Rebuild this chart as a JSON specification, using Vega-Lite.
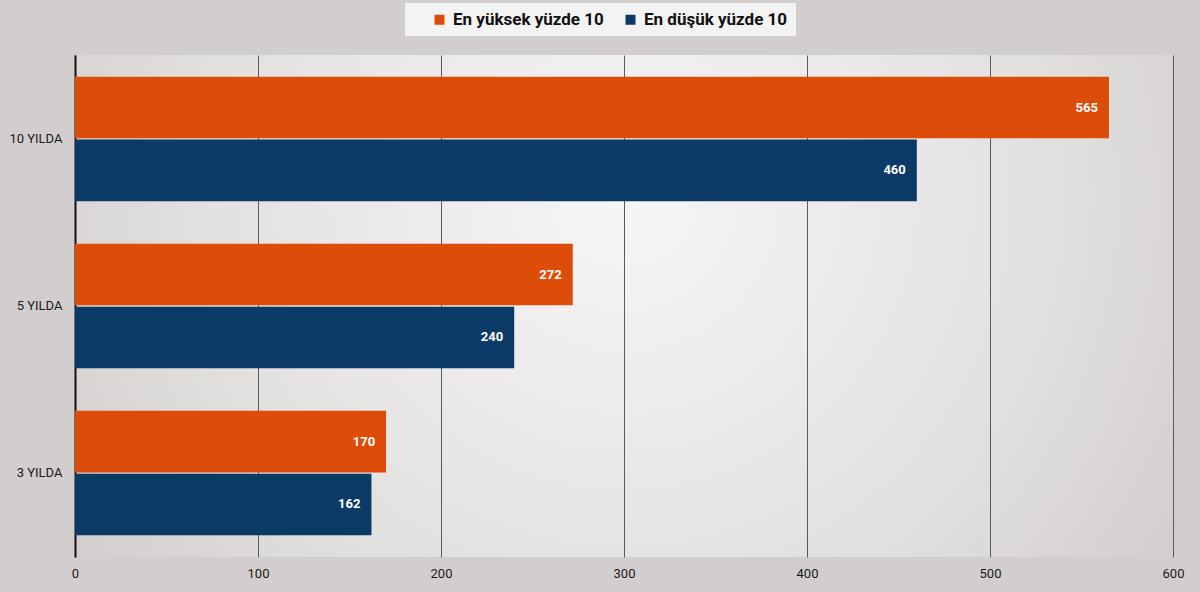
{
  "$schema": "https://vega.github.io/schema/vega-lite/v6.json",
  "width": 1200,
  "height": 592,
  "autosize": {"type": "fit", "contains": "padding"},
  "padding": {"left": 8, "right": 16, "top": 55, "bottom": 12},
  "background": "#d2cece",
  "view": {
    "stroke": null,
    "fill": {
      "gradient": "radial",
      "x1": 0.5, "y1": 0.4, "r1": 0,
      "x2": 0.5, "y2": 0.4, "r2": 0.72,
      "stops": [
        {"offset": 0, "color": "#f7f6f6"},
        {"offset": 0.55, "color": "#e2dfdf"},
        {"offset": 1, "color": "#c9c4c4"}
      ]
    }
  },
  "config": {
    "font": "Roboto",
    "axis": {"labelFont": "Roboto", "labelColor": "#1a1a1a", "labelFontSize": 13}
  },
  "data": {
    "values": [
      {"period": "10 YILDA", "group": "En yüksek yüzde 10", "value": 565},
      {"period": "10 YILDA", "group": "En düşük yüzde 10", "value": 460},
      {"period": "5 YILDA", "group": "En yüksek yüzde 10", "value": 272},
      {"period": "5 YILDA", "group": "En düşük yüzde 10", "value": 240},
      {"period": "3 YILDA", "group": "En yüksek yüzde 10", "value": 170},
      {"period": "3 YILDA", "group": "En düşük yüzde 10", "value": 162}
    ]
  },
  "encoding": {
    "y": {
      "field": "period",
      "type": "nominal",
      "sort": ["10 YILDA", "5 YILDA", "3 YILDA"],
      "scale": {"paddingInner": 0.255, "paddingOuter": 0.13},
      "axis": {
        "title": null,
        "domainColor": "#111111",
        "domainWidth": 2,
        "ticks": false,
        "labelPadding": 13
      }
    },
    "yOffset": {
      "field": "group",
      "type": "nominal",
      "sort": ["En yüksek yüzde 10", "En düşük yüzde 10"],
      "scale": {"paddingInner": 0.02}
    },
    "x": {
      "field": "value",
      "type": "quantitative",
      "scale": {"domain": [0, 600]},
      "axis": {
        "title": null,
        "values": [0, 100, 200, 300, 400, 500, 600],
        "domain": false,
        "ticks": false,
        "grid": true,
        "gridColor": "#5a5a5a",
        "gridWidth": 1,
        "labelFlush": false,
        "labelPadding": 10
      }
    }
  },
  "layer": [
    {
      "mark": {"type": "bar"},
      "encoding": {
        "color": {
          "field": "group",
          "type": "nominal",
          "sort": ["En yüksek yüzde 10", "En düşük yüzde 10"],
          "scale": {"domain": ["En yüksek yüzde 10", "En düşük yüzde 10"], "range": ["#de4c0a", "#0b3a66"]},
          "legend": {
            "orient": "none",
            "legendX": 330,
            "legendY": -52,
            "direction": "horizontal",
            "title": null,
            "fillColor": "#f3f3f3",
            "padding": 8,
            "symbolOffset": 18,
            "symbolType": "square",
            "symbolSize": 100,
            "symbolStrokeWidth": 0,
            "labelFontSize": 17,
            "labelFontWeight": "bold",
            "labelFont": "Roboto",
            "labelColor": "#111111",
            "labelOffset": 5,
            "columnPadding": 0
          }
        }
      }
    },
    {
      "mark": {"type": "text", "align": "right", "baseline": "middle", "dx": -11, "fontWeight": "bold", "color": "#ffffff", "fontSize": 13, "font": "Roboto"},
      "encoding": {"text": {"field": "value", "type": "quantitative"}}
    }
  ]
}
